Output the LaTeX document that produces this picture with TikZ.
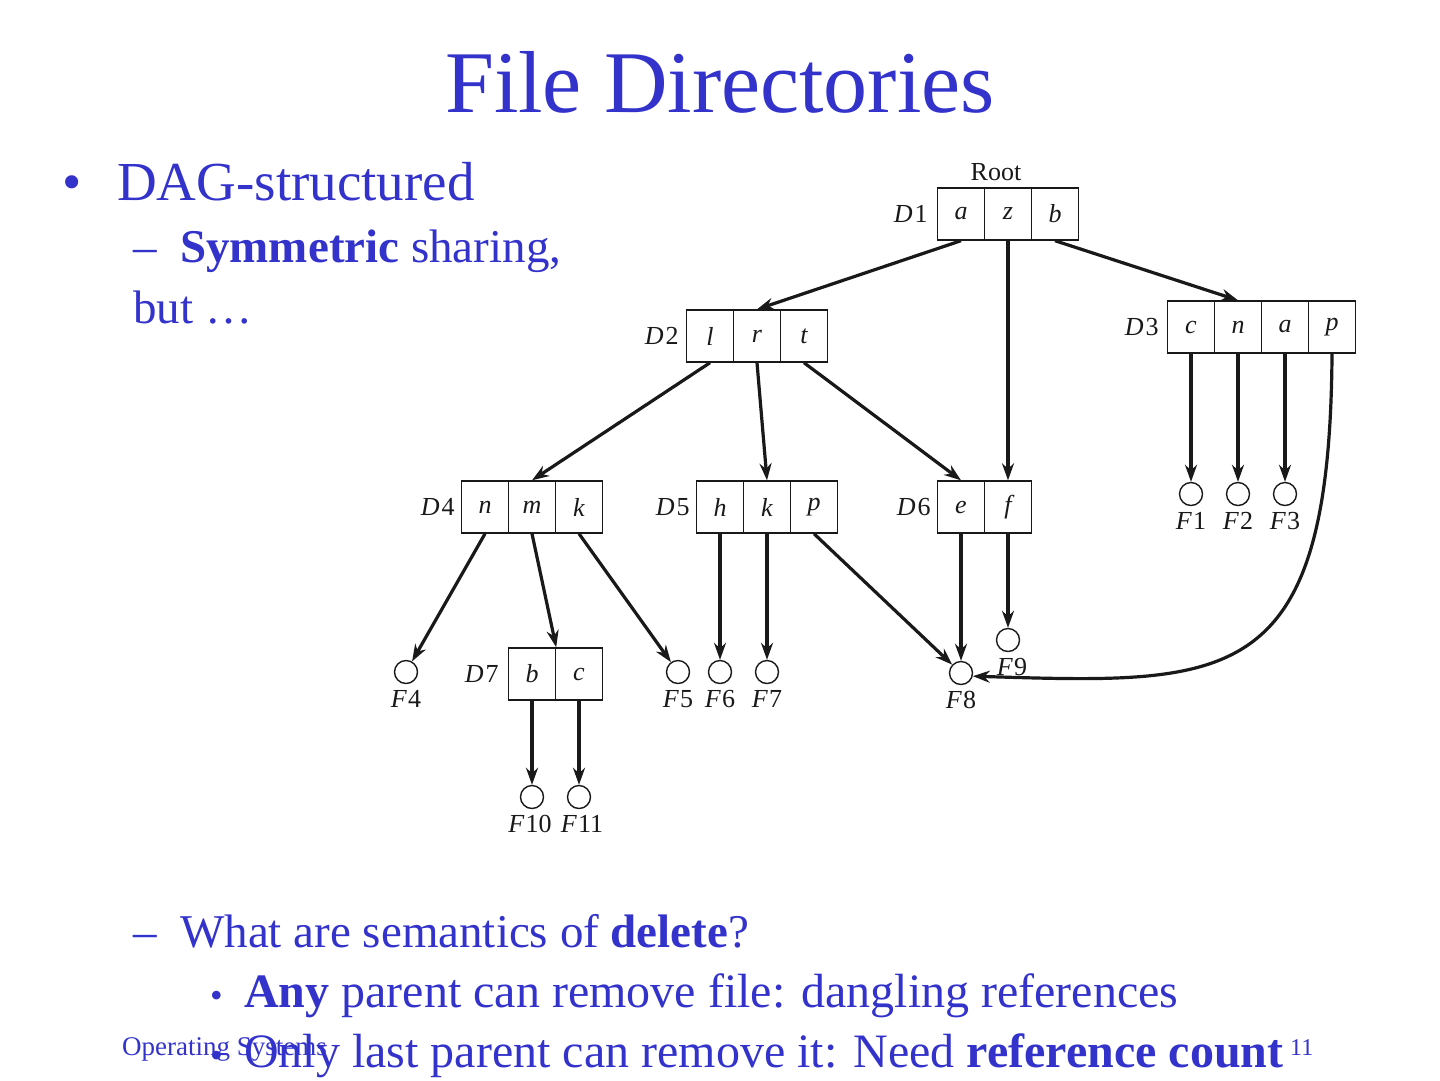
\documentclass[tikz,border=0pt]{standalone}
\usepackage{fontspec}
\setmainfont{Liberation Serif}
\usetikzlibrary{arrows.meta}
\definecolor{slideblue}{RGB}{51,51,204}
\definecolor{ink}{RGB}{25,25,25}
\begin{document}
\begin{tikzpicture}[x=1pt,y=-1pt,
  cell/.style={draw=ink, line width=1.4pt, minimum width=47pt, minimum height=52pt,
    inner sep=0pt, font=\fontsize{26}{30}\selectfont\itshape, text=ink},
  dlab/.style={anchor=east, inner sep=0pt, font=\fontsize{26}{30}\selectfont, text=ink},
  fileb/.style={draw=ink, line width=1.4pt, circle, minimum size=23pt, inner sep=0pt},
  flab/.style={inner sep=0pt, label distance=6pt, font=\fontsize{26}{30}\selectfont, text=ink},
  arr/.style={draw=ink, line width=3.2pt, -{Stealth[length=17pt,width=12pt]}},
  slidetxt/.style={anchor=base west, inner sep=0pt, text=slideblue},
  lvlone/.style={slidetxt, font=\fontsize{55}{60}\selectfont},
  lvltwo/.style={slidetxt, font=\fontsize{47}{52}\selectfont},
  lvlthree/.style={slidetxt, font=\fontsize{48}{52}\selectfont},
  smallbul/.style={slidetxt, font=\fontsize{36}{40}\selectfont},
  foot/.style={slidetxt, font=\fontsize{27}{30}\selectfont}
]
\useasboundingbox[fill=white] (0,0) rectangle (1440,1080);

% ---------- slide text ----------
\node[anchor=base, inner sep=0pt, text=slideblue, font=\fontsize{88}{100}\selectfont] (title) at (720,112) {File Directories};
\node[lvlone] (bul1) at (62,200) {•};
\node[lvlone] (t1) at (117,200) {DAG-structured};
\node[lvltwo] (dash1) at (133,262) {–};
\node[lvltwo] (t2) at (180,262) {\textbf{Symmetric} sharing,};
\node[lvltwo] (t3) at (133,323) {but …};
\node[lvltwo] (dash2) at (133,947) {–};
\node[lvltwo] (t4) at (180,947) {What are semantics of \textbf{delete}?};
\node[smallbul] (bul3) at (210,1007) {•};
\node[lvlthree] (t5) at (244,1007) {\textbf{Any} parent can remove file: dangling references};
\node[smallbul] (bul4) at (210,1067) {•};
\node[lvlthree] (t6) at (244,1067) {Only last parent can remove it: Need \textbf{reference count}};
\node[foot] (footer) at (122,1055) {Operating Systems};
\node[foot, font=\fontsize{24}{28}\selectfont] (pageno) at (1290,1055) {11};

% ---------- directories ----------
\node[cell] (D1a) at (961,214) {a};
\node[cell] (D1z) at (1008,214) {z};
\node[cell] (D1b) at (1055,214) {b};
\node[dlab] (L1) at ([xshift=-9pt]D1a.west) {\textit{D}\kern2pt 1};
\node[inner sep=0pt, font=\fontsize{26}{30}\selectfont, text=ink] (root) at (996,172) {Root};

\node[cell] (D2l) at (710,336) {l};
\node[cell] (D2r) at (757,336) {r};
\node[cell] (D2t) at (804,336) {t};
\node[dlab] (L2) at ([xshift=-7pt]D2l.west) {\textit{D}\kern2pt 2};

\node[cell] (D3c) at (1191,327) {c};
\node[cell] (D3n) at (1238,327) {n};
\node[cell] (D3a) at (1285,327) {a};
\node[cell] (D3p) at (1332,327) {p};
\node[dlab] (L3) at ([xshift=-8pt]D3c.west) {\textit{D}\kern2pt 3};

\node[cell] (D4n) at (485,507) {n};
\node[cell] (D4m) at (532,507) {m};
\node[cell] (D4k) at (579,507) {k};
\node[dlab] (L4) at ([xshift=-6pt]D4n.west) {\textit{D}\kern2pt 4};

\node[cell] (D5h) at (720,507) {h};
\node[cell] (D5k) at (767,507) {k};
\node[cell] (D5p) at (814,507) {p};
\node[dlab] (L5) at ([xshift=-6pt]D5h.west) {\textit{D}\kern2pt 5};

\node[cell] (D6e) at (961,507) {e};
\node[cell] (D6f) at (1008,507) {f};
\node[dlab] (L6) at ([xshift=-6pt]D6e.west) {\textit{D}\kern2pt 6};

\node[cell] (D7b) at (532,674) {b};
\node[cell] (D7c) at (579,674) {c};
\node[dlab] (L7) at ([xshift=-9pt]D7b.west) {\textit{D}\kern2pt 7};

% ---------- files ----------
\node[fileb, label={[flab]below:\textit{F}\kern1pt 1}] (F1) at (1191,494) {};
\node[fileb, label={[flab]below:\textit{F}\kern1pt 2}] (F2) at (1238,494) {};
\node[fileb, label={[flab]below:\textit{F}\kern1pt 3}] (F3) at (1285,494) {};
\node[fileb, label={[flab]below:\textit{F}\kern1pt 4}] (F4) at (406,672) {};
\node[fileb, label={[flab]below:\textit{F}\kern1pt 5}] (F5) at (678,672) {};
\node[fileb, label={[flab]below:\textit{F}\kern1pt 6}] (F6) at (720,672) {};
\node[fileb, label={[flab]below:\textit{F}\kern1pt 7}] (F7) at (767,672) {};
\node[fileb, label={[flab]below:\textit{F}\kern1pt 8}] (F8) at (961,673) {};
\node[fileb, label={[flab,xshift=4pt]below:\textit{F}\kern1pt 9}] (F9) at (1008,640) {};
\node[fileb, label={[flab,xshift=-2pt]below:\textit{F}\kern1pt 10}] (F10) at (532,797) {};
\node[fileb, label={[flab,xshift=3pt]below:\textit{F}\kern1pt 11}] (F11) at (579,797) {};

% ---------- connectors ----------
\draw[arr] (D1a.south) -- (D2r.north);
\draw[arr] (D1z.south) -- (D6f.north);
\draw[arr] (D1b.south) -- (D3n.north);
\draw[arr] (D2l.south) -- (D4m.north);
\draw[arr] (D2r.south) -- (D5k.north);
\draw[arr] (D2t.south) -- (D6e.north);
\draw[arr] (D3c.south) -- (F1);
\draw[arr] (D3n.south) -- (F2);
\draw[arr] (D3a.south) -- (F3);
\draw[arr] (D3p.south) .. controls (1330,690) and (1230,684) .. (F8.-15);
\draw[arr] (D4n.south) -- (F4);
\draw[arr] (D4m.south) -- (D7b.north east);
\draw[arr] (D4k.south) -- (F5);
\draw[arr] (D5h.south) -- (F6);
\draw[arr] (D5k.south) -- (F7);
\draw[arr] (D5p.south) -- (F8);
\draw[arr] (D6e.south) -- (F8);
\draw[arr] (D6f.south) -- (F9);
\draw[arr] (D7b.south) -- (F10);
\draw[arr] (D7c.south) -- (F11);
\end{tikzpicture}
\end{document}
